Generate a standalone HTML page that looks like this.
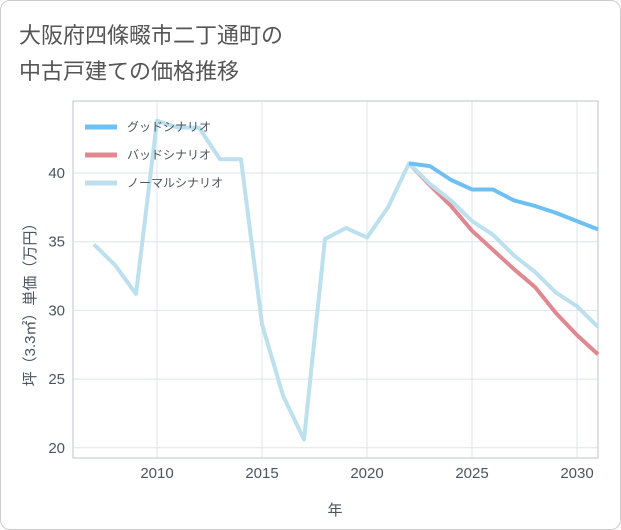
<!DOCTYPE html>
<html><head><meta charset="utf-8"><style>
body{margin:0;background:#fff;}
#wrap{width:619px;height:528px;border:1px solid #ccc;border-radius:10px;position:relative;overflow:hidden;font-family:"Liberation Sans","Noto Sans CJK JP",sans-serif;}
</style></head><body>
<div id="wrap">
<svg id="chart" width="621" height="530"></svg>
</div>
<script>
const years=[2007,2008,2009,2010,2011,2012,2013,2014,2015,2016,2017,2018,2019,2020,2021,2022,2023,2024,2025,2026,2027,2028,2029,2030,2031];
const normal=[34.8,33.3,31.2,43.8,43.3,43.3,41.0,41.0,29.0,23.8,20.6,35.2,36.0,35.3,37.5,40.7,39.2,38.0,36.5,35.5,34.0,32.8,31.3,30.3,28.8];
const goodYears=[2022,2023,2024,2025,2026,2027,2028,2029,2030,2031];
const good=[40.7,40.5,39.5,38.8,38.8,38.0,37.6,37.1,36.5,35.9];
const bad=[40.7,39.1,37.6,35.8,34.4,33.0,31.7,29.8,28.2,26.8];
const xTicks=[2010,2015,2020,2025,2030];
const yTicks=[20,25,30,35,40];
const NS='http://www.w3.org/2000/svg';
const svg=document.getElementById('chart');
const L=72,R=597,T=100,B=457;
const x=v=>156+(v-2010)*21;
const y=v=>172+(40-v)*13.74;
function el(t,a,p){const e=document.createElementNS(NS,t);for(const k in a)e.setAttribute(k,a[k]);(p||svg).appendChild(e);return e;}
const title=el('text',{x:18,y:42,'font-size':22,fill:'#555'});


title.textContent='大阪府四條畷市二丁通町の';
const title2=el('text',{x:18,y:78,'font-size':22,fill:'#555'});


title2.textContent='中古戸建ての価格推移';
const frame=el('rect',{x:L,y:T,width:R-L,height:B-T,fill:'none',stroke:'#b8c4cc'});


xTicks.forEach(t=>{const g=el('line',{x1:x(t),x2:x(t),y1:T,y2:B,stroke:'#dde4ea'});

const tx=el('text',{x:x(t),y:477,'font-size':15,fill:'#4a5560','text-anchor':'middle'});
tx.textContent=t;});
yTicks.forEach(t=>{const g=el('line',{x1:L,x2:R,y1:y(t),y2:y(t),stroke:'#dde4ea'});

const tx=el('text',{x:64,y:y(t)+5,'font-size':15,fill:'#4a5560','text-anchor':'end'});
tx.textContent=t;});
const xt=el('text',{x:334,y:514,'font-size':15,fill:'#4a5560','text-anchor':'middle'});
xt.textContent='年';
const yt=el('text',{x:0,y:0,'font-size':15,fill:'#4a5560','text-anchor':'middle',transform:'translate(34,300) rotate(-90)'});
yt.textContent='坪（3.3㎡）単価（万円）';
function line(xs,vs,c,name){const p=el('polyline',{points:xs.map((v,i)=>x(v)+','+y(vs[i])).join(' '),fill:'none',stroke:c,'stroke-width':4,'stroke-linejoin':'round'});
}
line(goodYears,bad,'#e08890','bad-line');
line(years,normal,'#bde0ee','normal-line');
line(goodYears,good,'#6ec0f2','good-line');
const leg=[['グッドシナリオ','#6ec0f2'],['バッドシナリオ','#e08890'],['ノーマルシナリオ','#bde0ee']];
leg.forEach((d,i)=>{const yy=126+i*28;
const ln=el('line',{x1:84,x2:116,y1:yy,y2:yy,stroke:d[1],'stroke-width':5});

const tx=el('text',{x:126,y:yy+4,'font-size':12,fill:'#4a5560'});
tx.textContent=d[0];});
</script>
</body></html>
